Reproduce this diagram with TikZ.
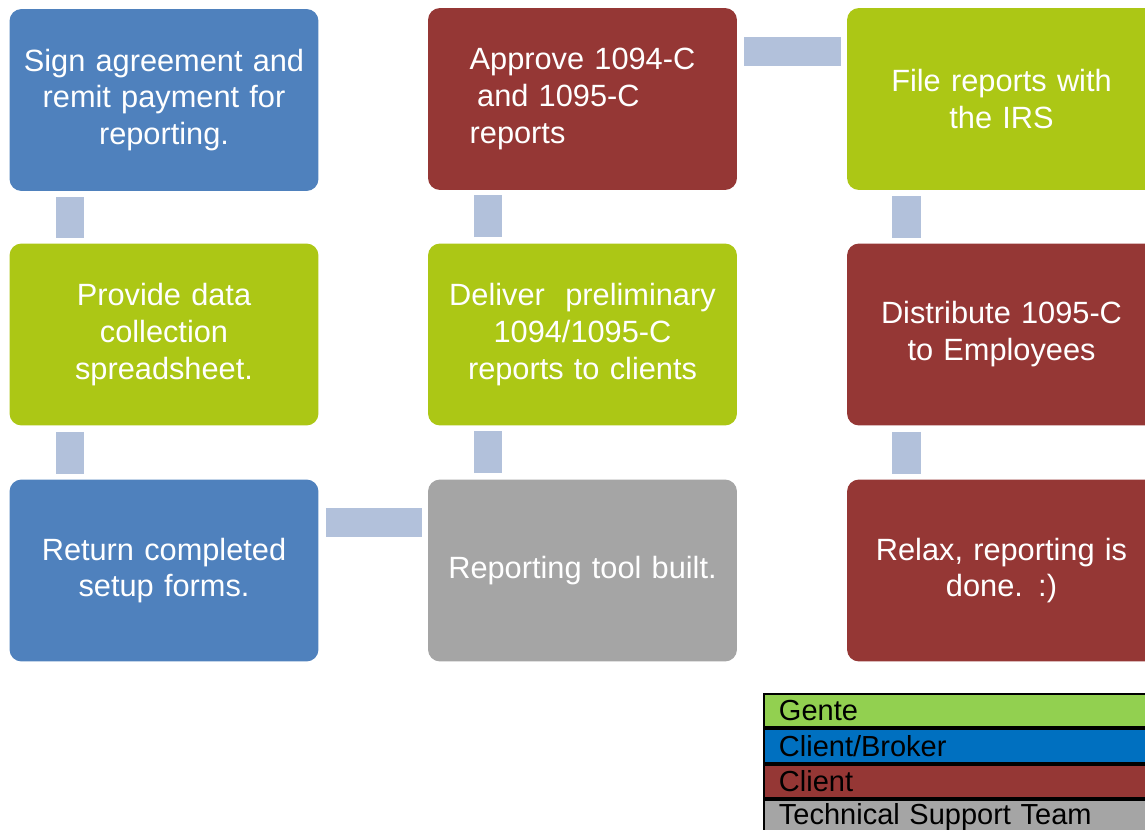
\documentclass[tikz,border=0pt]{standalone}
\usepackage{fontspec}
\setmainfont{Liberation Sans}
\usetikzlibrary{positioning}
\definecolor{step blue}{HTML}{4F81BD}
\definecolor{step green}{HTML}{ACC715}
\definecolor{step red}{HTML}{953735}
\definecolor{step grey}{HTML}{A5A5A5}
\definecolor{link grey}{HTML}{B2C1DB}
\definecolor{leg green}{HTML}{92D050}
\definecolor{leg blue}{HTML}{0070C0}

\tikzset{
  stepbox/.style={rectangle, rounded corners=0.24cm, minimum width=6.18cm, minimum height=3.64cm,
    text width=5.9cm, align=center, inner sep=0pt, text=white, font=\fontsize{17.5}{21}\selectfont},
  vbar/.style={draw=link grey, line width=0.57cm, shorten <=0.12cm, shorten >=0.1cm},
  hbar/.style={draw=link grey, line width=0.58cm, shorten <=0.14cm, shorten >=0.12cm},
  legbox/.style={draw=black, line width=1.1pt, minimum height=0.67cm, text width=7.4cm,
    inner xsep=0.3cm, inner ysep=0pt, align=left, font=\fontsize{16.5}{18}\selectfont}
}

\begin{document}
\begin{tikzpicture}[x=0.02cm, y=-0.02cm]
        \useasboundingbox (0,0) rectangle (1145,830);
        \clip (0,0) rectangle (1145,830);
        % steps, column by column
        \node[stepbox, fill=step blue] (sign) at (164,100) {Sign agreement and\\remit payment for\\reporting.};
        \node[stepbox, fill=step green] (data) at (164,334.5) {Provide data\\collection\\spreadsheet.};
        \node[stepbox, fill=step blue] (ret) at (164,570.5) {Return completed\\setup forms.};
        \node[stepbox, fill=step red] (approve) at (582.5,99) {\begin{tabular}{@{}l@{}}Approve 1094-C\\\hspace*{0.15cm}and 1095-C\\reports\end{tabular}};
        \node[stepbox, fill=step green] (deliver) at (582.5,334.5) {Deliver\ \ preliminary\\1094/1095-C\\reports to clients};
        \node[stepbox, fill=step grey] (tool) at (582.5,570.5) {Reporting tool built.};
        \node[stepbox, fill=step green] (file) at (1001.5,99) {File reports with\\the IRS};
        \node[stepbox, fill=step red] (distrib) at (1001.5,334.5) {Distribute 1095-C\\to Employees};
        \node[stepbox, fill=step red] (relax) at (1001.5,570.5) {Relax, reporting is\\done. :)};
        % links
        \draw[vbar] ([xshift=1.22cm]sign.south west) -- ([xshift=1.22cm]data.north west);
        \draw[vbar] ([xshift=1.22cm]data.south west) -- ([xshift=1.22cm]ret.north west);
        \draw[hbar] ([yshift=-0.87cm]ret.north east) -- ([yshift=-0.87cm]tool.north west);
        \draw[vbar] ([xshift=1.21cm]tool.north west) -- ([xshift=1.21cm]deliver.south west);
        \draw[vbar] ([xshift=1.21cm]deliver.north west) -- ([xshift=1.21cm]approve.south west);
        \draw[hbar] ([yshift=-0.87cm]approve.north east) -- ([yshift=-0.87cm]file.north west);
        \draw[vbar] ([xshift=1.2cm]file.south west) -- ([xshift=1.2cm]distrib.north west);
        \draw[vbar] ([xshift=1.2cm]distrib.south west) -- ([xshift=1.2cm]relax.north west);
        % legend
        \node[legbox, fill=leg green, anchor=north west] (gente) at (763,693) {Gente};
        \node[legbox, fill=leg blue, below=0pt of gente] (broker) {Client/Broker};
        \node[legbox, fill=step red, below=0pt of broker] (client) {Client};
        \node[legbox, fill=step grey, below=0pt of client] (support) {Technical Support Team};
\end{tikzpicture}
\end{document}
